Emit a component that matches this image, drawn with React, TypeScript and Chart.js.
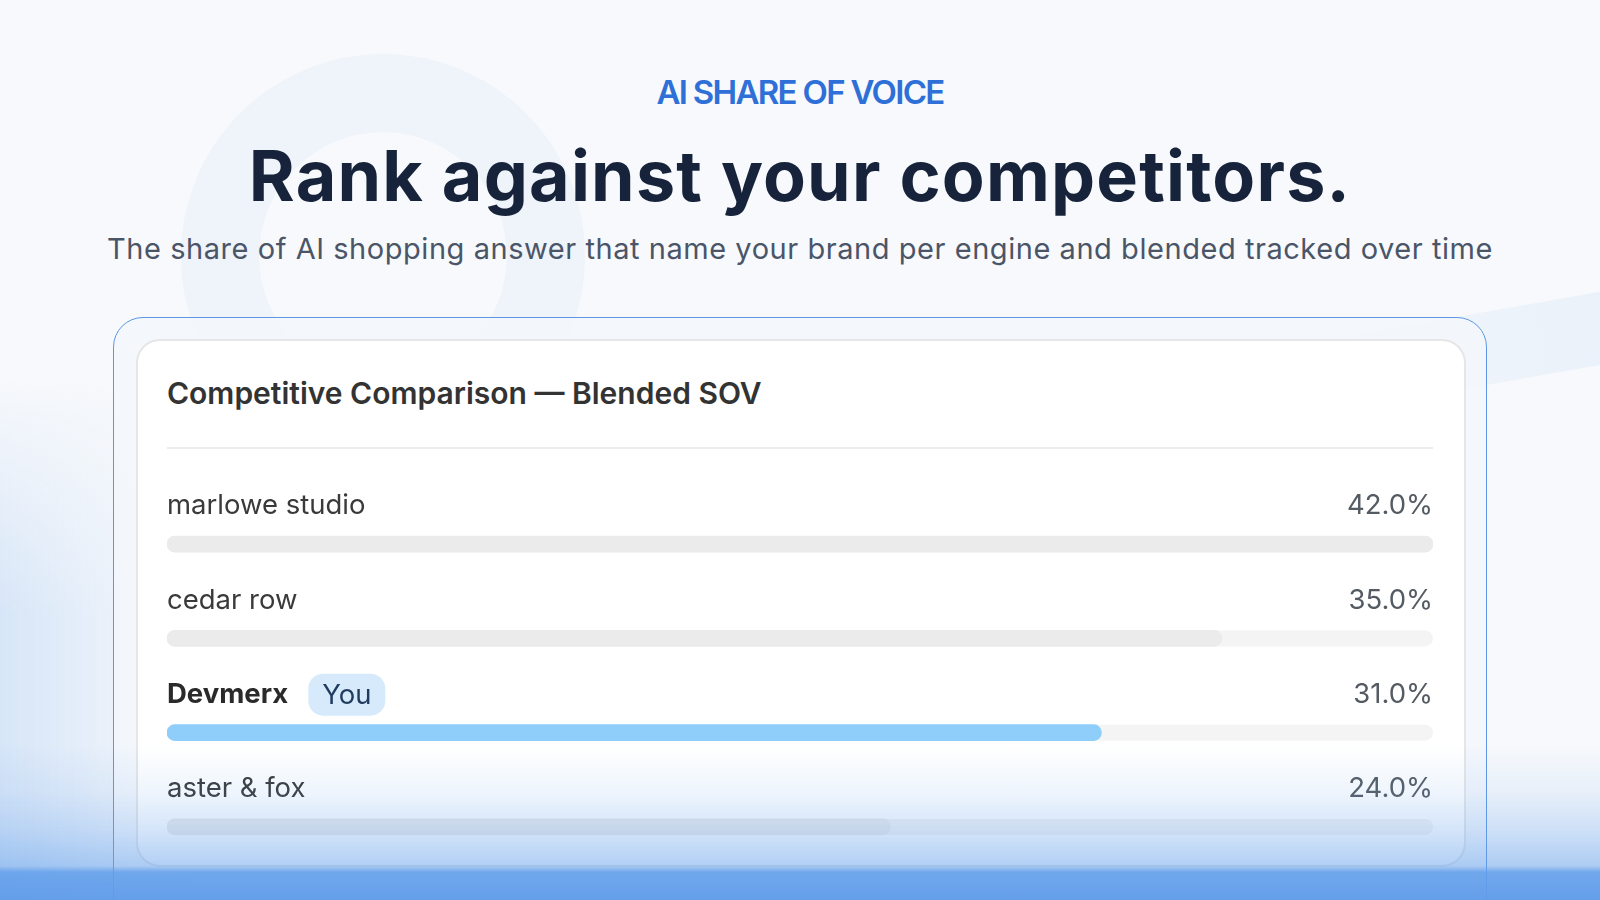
import React, { useEffect, useRef } from "react";
import { Chart, registerables } from "chart.js";

Chart.register(...registerables);

// ---- data ----
const brands = ["marlowe studio", "cedar row", "Devmerx", "aster & fox"];
const sovValues = [42.0, 35.0, 31.0, 24.0];
const valueLabels = ["42.0%", "35.0%", "31.0%", "24.0%"];
const youBrand = "Devmerx";
const badgeText = "You";

const eyebrowText = "AI SHARE OF VOICE";
const titleText = "Rank against your competitors.";
const subtitleText =
  "The share of AI shopping answer that name your brand per engine and blended tracked over time";
const cardTitleText = "Competitive Comparison \u2014 Blended SOV";

// ---- styles ----
const FONT = "Inter, 'Noto Sans', sans-serif";
const ROW_FONT_SIZE = 27.5;
const LABEL_OFFSET = -38;
const highlightIndex = brands.indexOf(youBrand);
const maxValue = Math.max(...sovValues);

const trackPlugin = {
  id: "trackPlugin",
  beforeDatasetsDraw(chart: any) {
    const { ctx } = chart;
    const xs = chart.scales.x;
    const meta = chart.getDatasetMeta(0);
    ctx.save();
    ctx.fillStyle = "#f4f4f4";
    meta.data.forEach((bar: any) => {
      const h = bar.height;
      ctx.beginPath();
      ctx.roundRect(xs.left, bar.y - h / 2, xs.right - xs.left, h, h / 2);
      ctx.fill();
    });
    ctx.restore();
  },
};

const badgePlugin = {
  id: "badgePlugin",
  afterDraw(chart: any) {
    const { ctx } = chart;
    const ys = chart.scales.y;
    const cy = ys.getPixelForValue(highlightIndex) + LABEL_OFFSET;
    ctx.save();
    ctx.font = `700 ${ROW_FONT_SIZE}px ${FONT}`;
    const w = ctx.measureText(youBrand).width;
    const bx = ys.right + w + 20;
    const bw = 77;
    const bh = 42;
    ctx.fillStyle = "#d6eafc";
    ctx.beginPath();
    ctx.roundRect(bx, cy - bh / 2, bw, bh, 15);
    ctx.fill();
    ctx.font = `400 ${ROW_FONT_SIZE}px ${FONT}`;
    ctx.fillStyle = "#1f3b5e";
    ctx.textAlign = "center";
    ctx.textBaseline = "middle";
    ctx.fillText(badgeText, bx + bw / 2, cy + 1);
    ctx.restore();
  },
};

export default function App() {
  const canvasRef = useRef<HTMLCanvasElement>(null);

  useEffect(() => {
    if (!canvasRef.current) return;
    const chart = new Chart(canvasRef.current, {
      type: "bar",
      data: {
        labels: brands,
        datasets: [
          {
            data: sovValues,
            backgroundColor: brands.map((b) => (b === youBrand ? "#8fcefb" : "#ebebeb")),
            borderRadius: 8,
            borderSkipped: false,
            barThickness: 16,
          },
        ],
      },
      options: {
        indexAxis: "y",
        responsive: false,
        animation: false,
        devicePixelRatio: 1,
        layout: { padding: { top: 27, bottom: 20, left: 0, right: 0 } },
        plugins: { legend: { display: false }, tooltip: { enabled: false } },
        scales: {
          x: { display: false, min: 0, max: maxValue },
          y: {
            type: "category",
            position: "left",
            offset: true,
            grid: { display: false, drawTicks: false },
            border: { display: false },
            ticks: {
              mirror: true,
              padding: 0,
              labelOffset: LABEL_OFFSET,
              color: (c: any) => (c.index === highlightIndex ? "#2a2a2a" : "#3a3a3a"),
              font: (c: any) => ({
                family: FONT,
                size: ROW_FONT_SIZE,
                weight: c.index === highlightIndex ? "700" : "400",
              }),
            },
          },
          y2: {
            type: "category",
            labels: valueLabels,
            position: "right",
            offset: true,
            grid: { display: false, drawTicks: false },
            border: { display: false },
            ticks: {
              mirror: true,
              padding: 0,
              labelOffset: LABEL_OFFSET,
              color: "#555b63",
              font: { family: FONT, size: ROW_FONT_SIZE, weight: "400" },
            },
          },
        },
      } as any,
      plugins: [trackPlugin, badgePlugin],
    } as any);
    return () => chart.destroy();
  }, []);

  const leftMask = "linear-gradient(to bottom, rgba(0,0,0,0), rgba(0,0,0,1) 45%)";

  return (
    <div
      style={{
        position: "absolute",
        left: 0,
        top: 0,
        width: 1600,
        height: 900,
        overflow: "hidden",
        background: "#f7f9fc",
        fontFamily: FONT,
      }}
    >
      {/* background decorations */}
      <div
        style={{
          position: "absolute",
          left: 383 - 202,
          top: 54,
          width: 404,
          height: 404,
          borderRadius: "50%",
          border: "78px solid rgba(228,236,248,0.45)",
          boxSizing: "border-box",
        }}
      />
      <div
        style={{
          position: "absolute",
          left: 1150,
          top: 310,
          width: 700,
          height: 72,
          transform: "rotate(-10deg)",
          background: "linear-gradient(to right, rgba(226,236,249,0), rgba(226,236,249,0.9))",
        }}
      />
      <div
        style={{
          position: "absolute",
          left: 0,
          top: 380,
          width: 240,
          height: 520,
          background:
            "linear-gradient(to right, rgba(206,224,246,0.8), rgba(220,233,249,0.35) 55%, rgba(230,238,250,0))",
          WebkitMaskImage: leftMask,
          maskImage: leftMask,
        }}
      />

      {/* header */}
      <div
        style={{
          position: "absolute",
          left: 0,
          top: 72,
          width: 1600,
          textAlign: "center",
          fontSize: 33,
          lineHeight: "40px",
          fontWeight: 600,
          letterSpacing: -1.7,
          color: "#2e6fd8",
        }}
      >
        {eyebrowText}
      </div>
      <div
        style={{
          position: "absolute",
          left: 0,
          top: 134,
          width: 1600,
          textAlign: "center",
          fontSize: 70,
          lineHeight: "84px",
          fontWeight: 700,
          letterSpacing: 1.2,
          color: "#16233a",
        }}
      >
        {titleText}
      </div>
      <div
        style={{
          position: "absolute",
          left: 0,
          top: 231,
          width: 1600,
          textAlign: "center",
          fontSize: 29,
          lineHeight: "36px",
          fontWeight: 400,
          letterSpacing: 0.55,
          color: "#4b5568",
          whiteSpace: "nowrap",
        }}
      >
        {subtitleText}
      </div>

      {/* outer frame */}
      <div
        style={{
          position: "absolute",
          left: 113,
          top: 317,
          width: 1374,
          height: 640,
          borderRadius: 30,
          border: "1px solid #5d96e6",
          boxSizing: "border-box",
          background: "rgba(243,247,252,0.85)",
        }}
      />
      {/* inner card */}
      <div
        style={{
          position: "absolute",
          left: 136,
          top: 339,
          width: 1330,
          height: 528,
          borderRadius: 24,
          border: "2px solid #e6e6e6",
          boxSizing: "border-box",
          background: "#ffffff",
        }}
      />
      <div
        style={{
          position: "absolute",
          left: 167,
          top: 374,
          fontSize: 30,
          lineHeight: "38px",
          fontWeight: 600,
          color: "#333333",
          whiteSpace: "nowrap",
        }}
      >
        {cardTitleText}
      </div>
      <div
        style={{
          position: "absolute",
          left: 167,
          top: 447,
          width: 1266,
          height: 2,
          background: "#ececec",
        }}
      />
      <canvas
        ref={canvasRef}
        width={1266}
        height={424}
        style={{ position: "absolute", left: 167, top: 470, width: 1266, height: 424 }}
      />

      {/* bottom blue fade */}
      <div
        style={{
          position: "absolute",
          left: 0,
          top: 745,
          width: 1600,
          height: 155,
          background:
            "linear-gradient(to bottom, rgba(100,160,235,0) 0%, rgba(100,160,235,0.1) 30%, rgba(100,160,235,0.28) 55%, rgba(100,160,235,0.5) 78%, rgba(98,158,234,0.9) 82%, rgba(96,156,233,0.97) 100%)",
        }}
      />
    </div>
  );
}
